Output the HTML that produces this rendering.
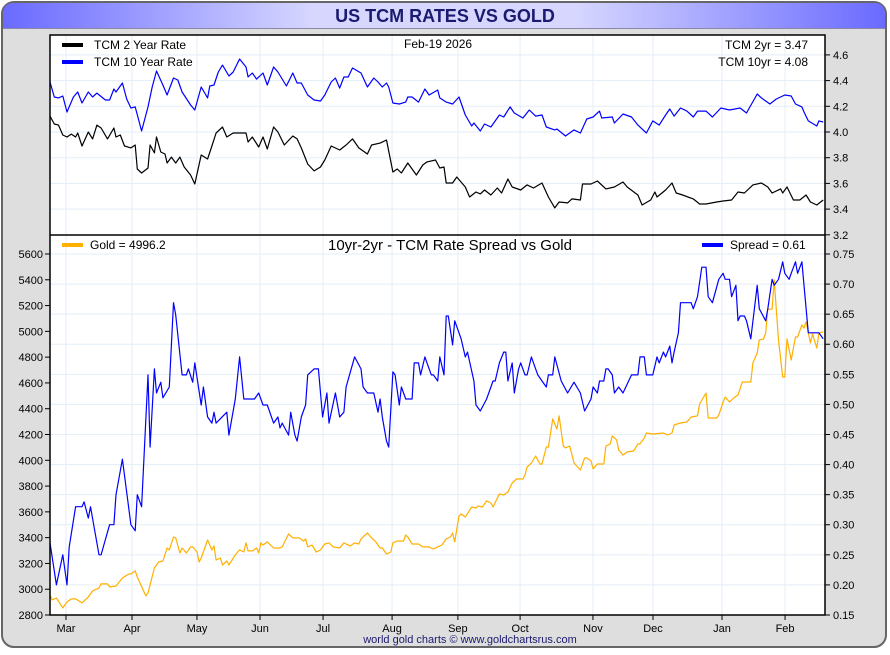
<!DOCTYPE html>
<html><head><meta charset="utf-8">
<style>
html,body{margin:0;padding:0;background:#fff;}
body{width:890px;height:650px;overflow:hidden;font-family:"Liberation Sans",sans-serif;}
svg text{font-family:"Liberation Sans",sans-serif;}
</style></head>
<body>
<svg id="chart" width="890" height="650" viewBox="0 0 890 650" xmlns="http://www.w3.org/2000/svg">
<defs>
<linearGradient id="tg" x1="0" x2="1" y1="0" y2="0">
<stop offset="0" stop-color="#6a6aff"/><stop offset="0.35" stop-color="#d6d6ff"/><stop offset="0.65" stop-color="#d6d6ff"/><stop offset="1" stop-color="#6a6aff"/>
</linearGradient>
</defs>
<rect x="2" y="2" width="884" height="645" rx="12" fill="#dedede" stroke="#666" stroke-width="2"/>
<path d="M3,28 L3,14 Q3,3 14,3 L874,3 Q885,3 885,14 L885,28 Z" fill="url(#tg)"/>
<line x1="3" y1="28.5" x2="885" y2="28.5" stroke="#8888aa" stroke-width="1"/>
<text x="445" y="22" text-anchor="middle" font-size="18" font-weight="bold" fill="#1a1a6e">US TCM RATES VS GOLD</text>
<rect x="50" y="35" width="775" height="580" fill="#fff"/>
<g id="grid"></g>
<g id="series"></g>
<rect x="50" y="35" width="775" height="580" fill="none" stroke="#000" stroke-width="1.5"/>
<line x1="50" y1="235" x2="825" y2="235" stroke="#000" stroke-width="1.5"/>
<g id="axes"></g>
<g font-size="12" fill="#000">
<line x1="62" y1="45" x2="83" y2="45" stroke="#000" stroke-width="4"/>
<text x="94" y="49">TCM 2 Year Rate</text>
<line x1="62" y1="62" x2="83" y2="62" stroke="#0000ff" stroke-width="4"/>
<text x="94" y="66">TCM 10 Year Rate</text>
<text x="404" y="48">Feb-19  2026</text>
<text x="808" y="49" text-anchor="end">TCM 2yr = 3.47</text>
<text x="808" y="66" text-anchor="end">TCM 10yr = 4.08</text>
</g>
<g font-size="12" fill="#000">
<line x1="62" y1="245" x2="83" y2="245" stroke="#ffb000" stroke-width="4"/>
<text x="90" y="249">Gold = 4996.2</text>
<text x="450" y="250" text-anchor="middle" font-size="15">10yr-2yr - TCM Rate Spread vs Gold</text>
<line x1="702" y1="245" x2="723" y2="245" stroke="#0000ff" stroke-width="4"/>
<text x="730" y="249">Spread = 0.61</text>
</g>
<text x="470" y="643" text-anchor="middle" font-size="11" fill="#1a1a6e">world gold charts © www.goldchartsrus.com</text>
</svg>
<script>
const monthLabels=["Mar","Apr","May","Jun","Jul","Aug","Sep","Oct","Nov","Dec","Jan","Feb"];
const monthDays=[7.5,38.5,69,98.6,128.2,160.6,191.5,220.7,254.9,283.1,315.5,345.1];
const rateTicks=[4.6,4.4,4.2,4.0,3.8,3.6,3.4,3.2];
const goldTicks=[5600,5400,5200,5000,4800,4600,4400,4200,4000,3800,3600,3400,3200,3000,2800];
const spreadTicks=[0.75,0.70,0.65,0.60,0.55,0.50,0.45,0.40,0.35,0.30,0.25,0.20,0.15];

const tenDays=[0,2,4,6,8,11,13,15,18,20,22,26,28,30,31,34,36,38,40,43,46,48,50,53,55,58,60,62,66,68,71,74,75,77,79,81,84,86,89,92,93,95,97,100,102,105,107,111,114,116,118,121,124,127,129,132,134,136,138,140,142,146,149,152,154,156,158,159,161,164,167,168,170,173,176,178,182,183,186,189,192,195,198,199,202,204,207,211,213,216,218,222,225,228,231,233,237,238,242,246,249,252,255,258,259,264,265,269,273,276,280,283,286,289,291,293,296,299,302,304,308,311,315,319,324,327,332,334,338,341,345,348,350,353,354,356,360,361,363];
const tenVals=[4.389,4.272,4.265,4.280,4.156,4.272,4.311,4.226,4.311,4.272,4.303,4.249,4.249,4.335,4.311,4.381,4.257,4.187,4.195,4.008,4.195,4.350,4.475,4.366,4.288,4.420,4.405,4.311,4.210,4.171,4.350,4.265,4.358,4.366,4.467,4.521,4.436,4.467,4.568,4.506,4.428,4.459,4.412,4.459,4.366,4.506,4.467,4.358,4.459,4.381,4.381,4.288,4.249,4.241,4.288,4.389,4.420,4.342,4.428,4.428,4.498,4.459,4.350,4.420,4.389,4.350,4.381,4.350,4.226,4.218,4.233,4.272,4.272,4.233,4.335,4.288,4.327,4.265,4.233,4.218,4.272,4.132,4.047,4.070,4.008,4.062,4.039,4.132,4.117,4.195,4.148,4.109,4.171,4.124,4.132,4.039,4.016,4.023,3.969,4.016,3.992,4.101,4.117,4.163,4.109,4.117,4.070,4.140,4.117,4.054,3.992,4.086,4.054,4.132,4.179,4.124,4.187,4.163,4.117,4.163,4.163,4.117,4.187,4.171,4.187,4.148,4.296,4.265,4.218,4.257,4.288,4.280,4.218,4.195,4.156,4.086,4.047,4.086,4.078];

const twoDays=[0,2,4,6,8,10,12,13,15,18,20,22,24,27,30,31,33,35,38,40,41,43,46,47,49,50,52,54,55,57,59,61,63,66,68,71,74,76,78,81,83,86,89,92,93,95,98,100,102,105,107,110,114,116,118,121,124,127,129,132,136,139,142,145,149,151,155,158,161,163,165,168,172,175,177,181,183,185,186,189,191,195,197,200,202,204,207,210,212,215,217,221,224,227,231,234,237,239,243,245,249,250,254,257,261,265,269,271,276,278,282,284,285,289,292,294,297,302,305,308,313,316,320,323,326,330,334,337,339,343,344,346,349,352,355,357,360,363];
const twoVals=[4.124,4.062,4.054,3.977,3.961,3.984,3.961,3.992,3.891,4.0,3.946,4.054,4.031,3.946,4.031,3.961,3.977,3.891,3.876,3.899,3.712,3.681,3.720,3.899,3.837,3.961,3.844,3.829,3.759,3.805,3.759,3.805,3.728,3.665,3.595,3.821,3.790,3.891,3.992,4.039,3.961,3.992,3.992,3.992,3.922,3.961,3.883,3.961,3.868,4.039,4.0,3.899,3.969,3.946,3.876,3.751,3.697,3.728,3.782,3.891,3.860,3.899,3.946,3.876,3.829,3.899,3.914,3.938,3.689,3.712,3.681,3.759,3.665,3.743,3.767,3.782,3.720,3.728,3.603,3.603,3.650,3.572,3.494,3.533,3.518,3.549,3.510,3.564,3.525,3.634,3.572,3.549,3.588,3.564,3.603,3.494,3.409,3.455,3.448,3.479,3.471,3.595,3.595,3.619,3.557,3.572,3.611,3.572,3.510,3.432,3.471,3.533,3.494,3.549,3.603,3.525,3.510,3.479,3.440,3.440,3.455,3.463,3.471,3.533,3.525,3.588,3.603,3.572,3.525,3.557,3.525,3.572,3.471,3.471,3.510,3.455,3.432,3.471];

const goldDays=[0,1,3,6,8,10,12,15,18,20,23,24,27,28,31,34,37,38,40,41,45,46,49,51,53,55,56,58,59,61,62,64,66,67,69,70,71,74,76,77,78,80,81,83,84,87,89,91,92,93,95,97,98,99,100,102,105,108,109,112,114,117,119,120,121,123,125,127,129,131,133,136,138,141,143,145,146,149,151,153,155,156,158,160,161,163,166,167,168,170,173,175,178,180,182,184,186,188,189,190,192,193,195,198,200,201,203,205,207,208,211,213,215,217,219,222,223,224,226,228,230,231,233,234,236,238,239,241,242,244,246,249,251,252,254,255,257,260,261,263,264,266,267,269,271,274,276,277,279,280,283,288,290,292,293,296,299,301,304,305,308,309,313,314,316,317,319,321,323,325,327,329,330,332,333,335,336,337,339,340,342,344,345,346,348,350,351,353,354,355,357,358,360,361,363];
const goldVals=[2956,2917,2932,2855,2901,2925,2925,2894,2940,2987,3010,3041,3041,3018,3025,3087,3118,3118,3142,3095,2948,2971,3165,3211,3219,3320,3305,3405,3398,3281,3320,3281,3328,3328,3289,3211,3242,3382,3305,3336,3227,3242,3188,3219,3188,3266,3305,3289,3359,3297,3297,3320,3281,3359,3343,3367,3320,3320,3328,3429,3398,3398,3374,3390,3328,3343,3289,3305,3351,3359,3328,3320,3359,3336,3359,3351,3390,3436,3398,3367,3320,3320,3273,3289,3359,3374,3374,3421,3405,3351,3351,3328,3328,3312,3328,3343,3390,3405,3436,3367,3568,3584,3560,3638,3630,3646,3638,3685,3669,3638,3739,3731,3754,3824,3855,3855,3886,3948,3979,4033,3971,3971,4103,4103,4320,4243,4344,4111,4096,4111,3979,3925,4018,4018,3995,3933,3971,3971,4111,4127,4189,4158,4080,4041,4065,4072,4127,4127,4173,4212,4204,4212,4196,4212,4274,4289,4297,4336,4344,4437,4522,4328,4328,4351,4452,4491,4452,4483,4507,4607,4607,4607,4755,4832,4933,4941,4987,5173,5173,5398,4933,4646,4646,4941,4778,4956,4956,5049,5026,5073,4910,4980,4871,4987,4996];

const spreadDays=[0,3,6,8,9,12,15,16,18,19,23,24,25,28,30,31,34,38,40,41,43,46,47,49,50,52,53,56,58,59,62,64,65,67,68,71,72,74,76,77,78,83,84,87,89,91,96,98,100,102,105,107,108,109,112,113,115,116,118,120,121,124,126,128,130,131,134,136,138,139,143,146,147,149,152,154,155,156,158,159,161,162,164,165,167,170,171,173,174,176,177,179,180,182,183,185,186,187,189,190,192,193,195,196,199,200,202,205,207,208,209,211,213,214,215,217,218,220,221,223,224,226,227,229,231,233,234,236,237,240,243,246,249,251,254,255,257,258,260,261,262,264,265,267,269,273,276,277,279,280,283,285,286,288,289,291,292,293,295,296,301,302,304,306,308,309,311,314,316,317,319,320,322,323,324,326,327,329,332,333,336,337,339,340,342,344,345,347,348,350,351,353,354,356,361,363];
const spreadVals=[0.27,0.20,0.25,0.20,0.263,0.33,0.33,0.338,0.311,0.33,0.25,0.25,0.263,0.30,0.30,0.35,0.409,0.30,0.29,0.35,0.33,0.549,0.429,0.559,0.519,0.537,0.511,0.529,0.669,0.649,0.549,0.549,0.559,0.537,0.569,0.499,0.529,0.479,0.469,0.487,0.469,0.487,0.449,0.509,0.579,0.509,0.509,0.519,0.499,0.499,0.469,0.479,0.461,0.469,0.449,0.487,0.449,0.439,0.479,0.499,0.549,0.559,0.559,0.479,0.519,0.469,0.519,0.479,0.487,0.529,0.579,0.559,0.529,0.519,0.519,0.487,0.509,0.479,0.439,0.429,0.554,0.549,0.499,0.529,0.509,0.509,0.569,0.569,0.549,0.579,0.569,0.549,0.549,0.539,0.579,0.549,0.647,0.647,0.599,0.639,0.619,0.609,0.579,0.587,0.539,0.499,0.489,0.509,0.529,0.539,0.539,0.569,0.587,0.587,0.539,0.569,0.519,0.559,0.569,0.549,0.549,0.579,0.569,0.549,0.539,0.529,0.549,0.549,0.579,0.539,0.519,0.537,0.519,0.489,0.509,0.529,0.519,0.539,0.539,0.559,0.559,0.549,0.519,0.529,0.519,0.549,0.549,0.579,0.579,0.549,0.549,0.579,0.569,0.587,0.579,0.597,0.569,0.587,0.619,0.669,0.669,0.659,0.679,0.728,0.728,0.679,0.669,0.708,0.718,0.708,0.708,0.679,0.698,0.639,0.647,0.647,0.639,0.609,0.698,0.659,0.639,0.659,0.708,0.698,0.708,0.737,0.718,0.708,0.718,0.737,0.718,0.737,0.698,0.619,0.619,0.609];

const NS="http://www.w3.org/2000/svg";
const xOf=d=>50+d*2.13;
const yRate=r=>132-(r-4.0)*128.5;
const yGold=g=>254+(5600-g)/200*25.786;
const ySpread=s=>254+(0.75-s)/0.05*30.083;
function mk(tag,attrs,parent){const e=document.createElementNS(NS,tag);for(const k in attrs)e.setAttribute(k,attrs[k]);parent.appendChild(e);return e;}
const grid=document.getElementById('grid'),series=document.getElementById('series'),axes=document.getElementById('axes');
const gc="#e3eef8";
monthDays.forEach((d,i)=>{
  const x=xOf(d);
  const gl=mk('line',{x1:x,y1:35,x2:x,y2:615,stroke:gc,'stroke-width':1},grid);
  
  
  mk('line',{x1:x,y1:615,x2:x,y2:620,stroke:'#000'},axes);
  const t=mk('text',{x:x,y:632,'text-anchor':'middle','font-size':11,fill:'#000'},axes);
  t.textContent=monthLabels[i];
  
  
});
rateTicks.forEach(r=>{
  const y=yRate(r);
  if(y>36&&y<234)mk('line',{x1:50,y1:y,x2:825,y2:y,stroke:gc},grid);
  mk('line',{x1:825,y1:y,x2:830,y2:y,stroke:'#000'},axes);
  const t=mk('text',{x:833,y:y+4,'font-size':11,fill:'#000'},axes);
  t.textContent=r.toFixed(1);
  
  
});
goldTicks.forEach(g=>{
  const y=yGold(g);
  mk('line',{x1:45,y1:y,x2:50,y2:y,stroke:'#000'},axes);
  const t=mk('text',{x:43,y:y+4,'text-anchor':'end','font-size':11,fill:'#000'},axes);
  t.textContent=g;
  
  
});
spreadTicks.forEach(s=>{
  const y=ySpread(s);
  if(y>236&&y<614)mk('line',{x1:50,y1:y,x2:825,y2:y,stroke:gc},grid);
  mk('line',{x1:825,y1:y,x2:830,y2:y,stroke:'#000'},axes);
  const t=mk('text',{x:833,y:y+4,'font-size':11,fill:'#000'},axes);
  t.textContent=s.toFixed(2);
  
  
});
function line(days,vals,yf,color,name){
  const pts=days.map((d,i)=>xOf(d).toFixed(1)+','+yf(vals[i]).toFixed(1)).join(' ');
  const p=mk('polyline',{points:pts,fill:'none',stroke:color,'stroke-width':1.2,'stroke-linejoin':'round'},series);
  
  
}
line(goldDays,goldVals,yGold,'#ffb000','gold-line');
line(spreadDays,spreadVals,ySpread,'#0000ff','spread-line');
line(twoDays,twoVals,yRate,'#000000','tcm-2yr-line');
line(tenDays,tenVals,yRate,'#0000ff','tcm-10yr-line');
</script>
</body></html>
